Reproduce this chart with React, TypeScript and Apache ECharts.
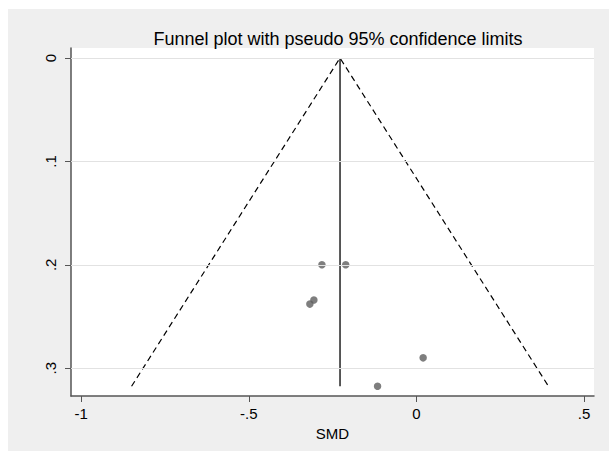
import React, { useEffect, useRef } from "react";
import * as echarts from "echarts";

const titleText = "Funnel plot with pseudo 95% confidence limits";
const xTicks = [-1, -0.5, 0, 0.5];
const yTicks = [0, 0.1, 0.2, 0.3];
const smd = [-0.282, -0.211, -0.306, -0.318, 0.02, -0.116];
const seSmd = [0.2, 0.2, 0.234, 0.238, 0.29, 0.3175];
const pooled = -0.228;
const seMax = 0.3175;
const lowerLimitAtMax = -0.85;
const upperLimitAtMax = 0.394;

const fmt = (v: number) => {
  const r = Math.round(v * 10) / 10;
  if (r === 0) return "0";
  let s = String(r);
  s = s.replace(/^0\./, ".").replace(/^-0\./, "-.");
  return s;
};

export default function App() {
  const ref = useRef<HTMLDivElement>(null);
  useEffect(() => {
    if (!ref.current) return;
    const chart = echarts.init(ref.current, null, { renderer: "svg" });
    const font = "'Liberation Sans', Arial, sans-serif";
    chart.setOption({
      animation: false,
      backgroundColor: "#efefef",
      title: {
        text: titleText,
        left: 325,
        textAlign: "center",
        top: 16,
        textStyle: { fontFamily: font, fontSize: 18, fontWeight: "normal", color: "#000" },
      },
      grid: { left: 63, right: 15, top: 39, bottom: 55, show: true, backgroundColor: "#fff", borderWidth: 0 },
      xAxis: {
        type: "value",
        min: -1.0307,
        max: 0.5298,
        name: "SMD",
        nameLocation: "middle",
        nameGap: 29,
        nameTextStyle: { fontFamily: font, fontSize: 15, color: "#000" },
        axisLine: { show: true, onZero: false, lineStyle: { color: "#555", width: 1.5 } },
        axisTick: { show: true, length: 6, customValues: xTicks, lineStyle: { color: "#555", width: 1 } },
        axisLabel: { customValues: xTicks, formatter: (v: number) => fmt(v), margin: 10, fontFamily: font, fontSize: 15, color: "#000" },
        splitLine: { show: false },
      },
      yAxis: {
        type: "value",
        inverse: true,
        min: -0.0097,
        max: 0.3269,
        axisLine: { show: true, onZero: false, lineStyle: { color: "#555", width: 1.5 } },
        axisTick: { show: true, length: 6, customValues: yTicks, lineStyle: { color: "#555", width: 1 } },
        axisLabel: { customValues: yTicks, rotate: 90, formatter: (v: number) => fmt(v), margin: 13, fontFamily: font, fontSize: 15, color: "#000" },
        splitLine: { show: false },
      },
      series: [
        {
          type: "line",
          data: [],
          silent: true,
          markLine: {
            silent: true,
            symbol: "none",
            label: { show: false },
            lineStyle: { color: "#e2e2e2", width: 1, type: "solid" },
            data: yTicks.map((v) => ({ yAxis: v })),
          },
          z: 1,
        },
        {
          type: "line",
          data: [
            [lowerLimitAtMax, seMax],
            [pooled, 0],
            [upperLimitAtMax, seMax],
          ],
          symbol: "none",
          lineStyle: { color: "#000", width: 1.2, type: [6, 4] },
          z: 2,
        },
        {
          type: "line",
          data: [
            [pooled, 0],
            [pooled, seMax],
          ],
          symbol: "none",
          lineStyle: { color: "#000", width: 1.3, type: "solid" },
          z: 2,
        },
        {
          type: "scatter",
          data: smd.map((x, i) => [x, seSmd[i]]),
          symbol: "circle",
          symbolSize: 7.5,
          itemStyle: { color: "#5e5e5e" },
          z: 3,
        },
      ],
    });
    return () => chart.dispose();
  }, []);
  return <div ref={ref} style={{ position: "absolute", left: 8, top: 9, width: 601, height: 442 }} />;
}
